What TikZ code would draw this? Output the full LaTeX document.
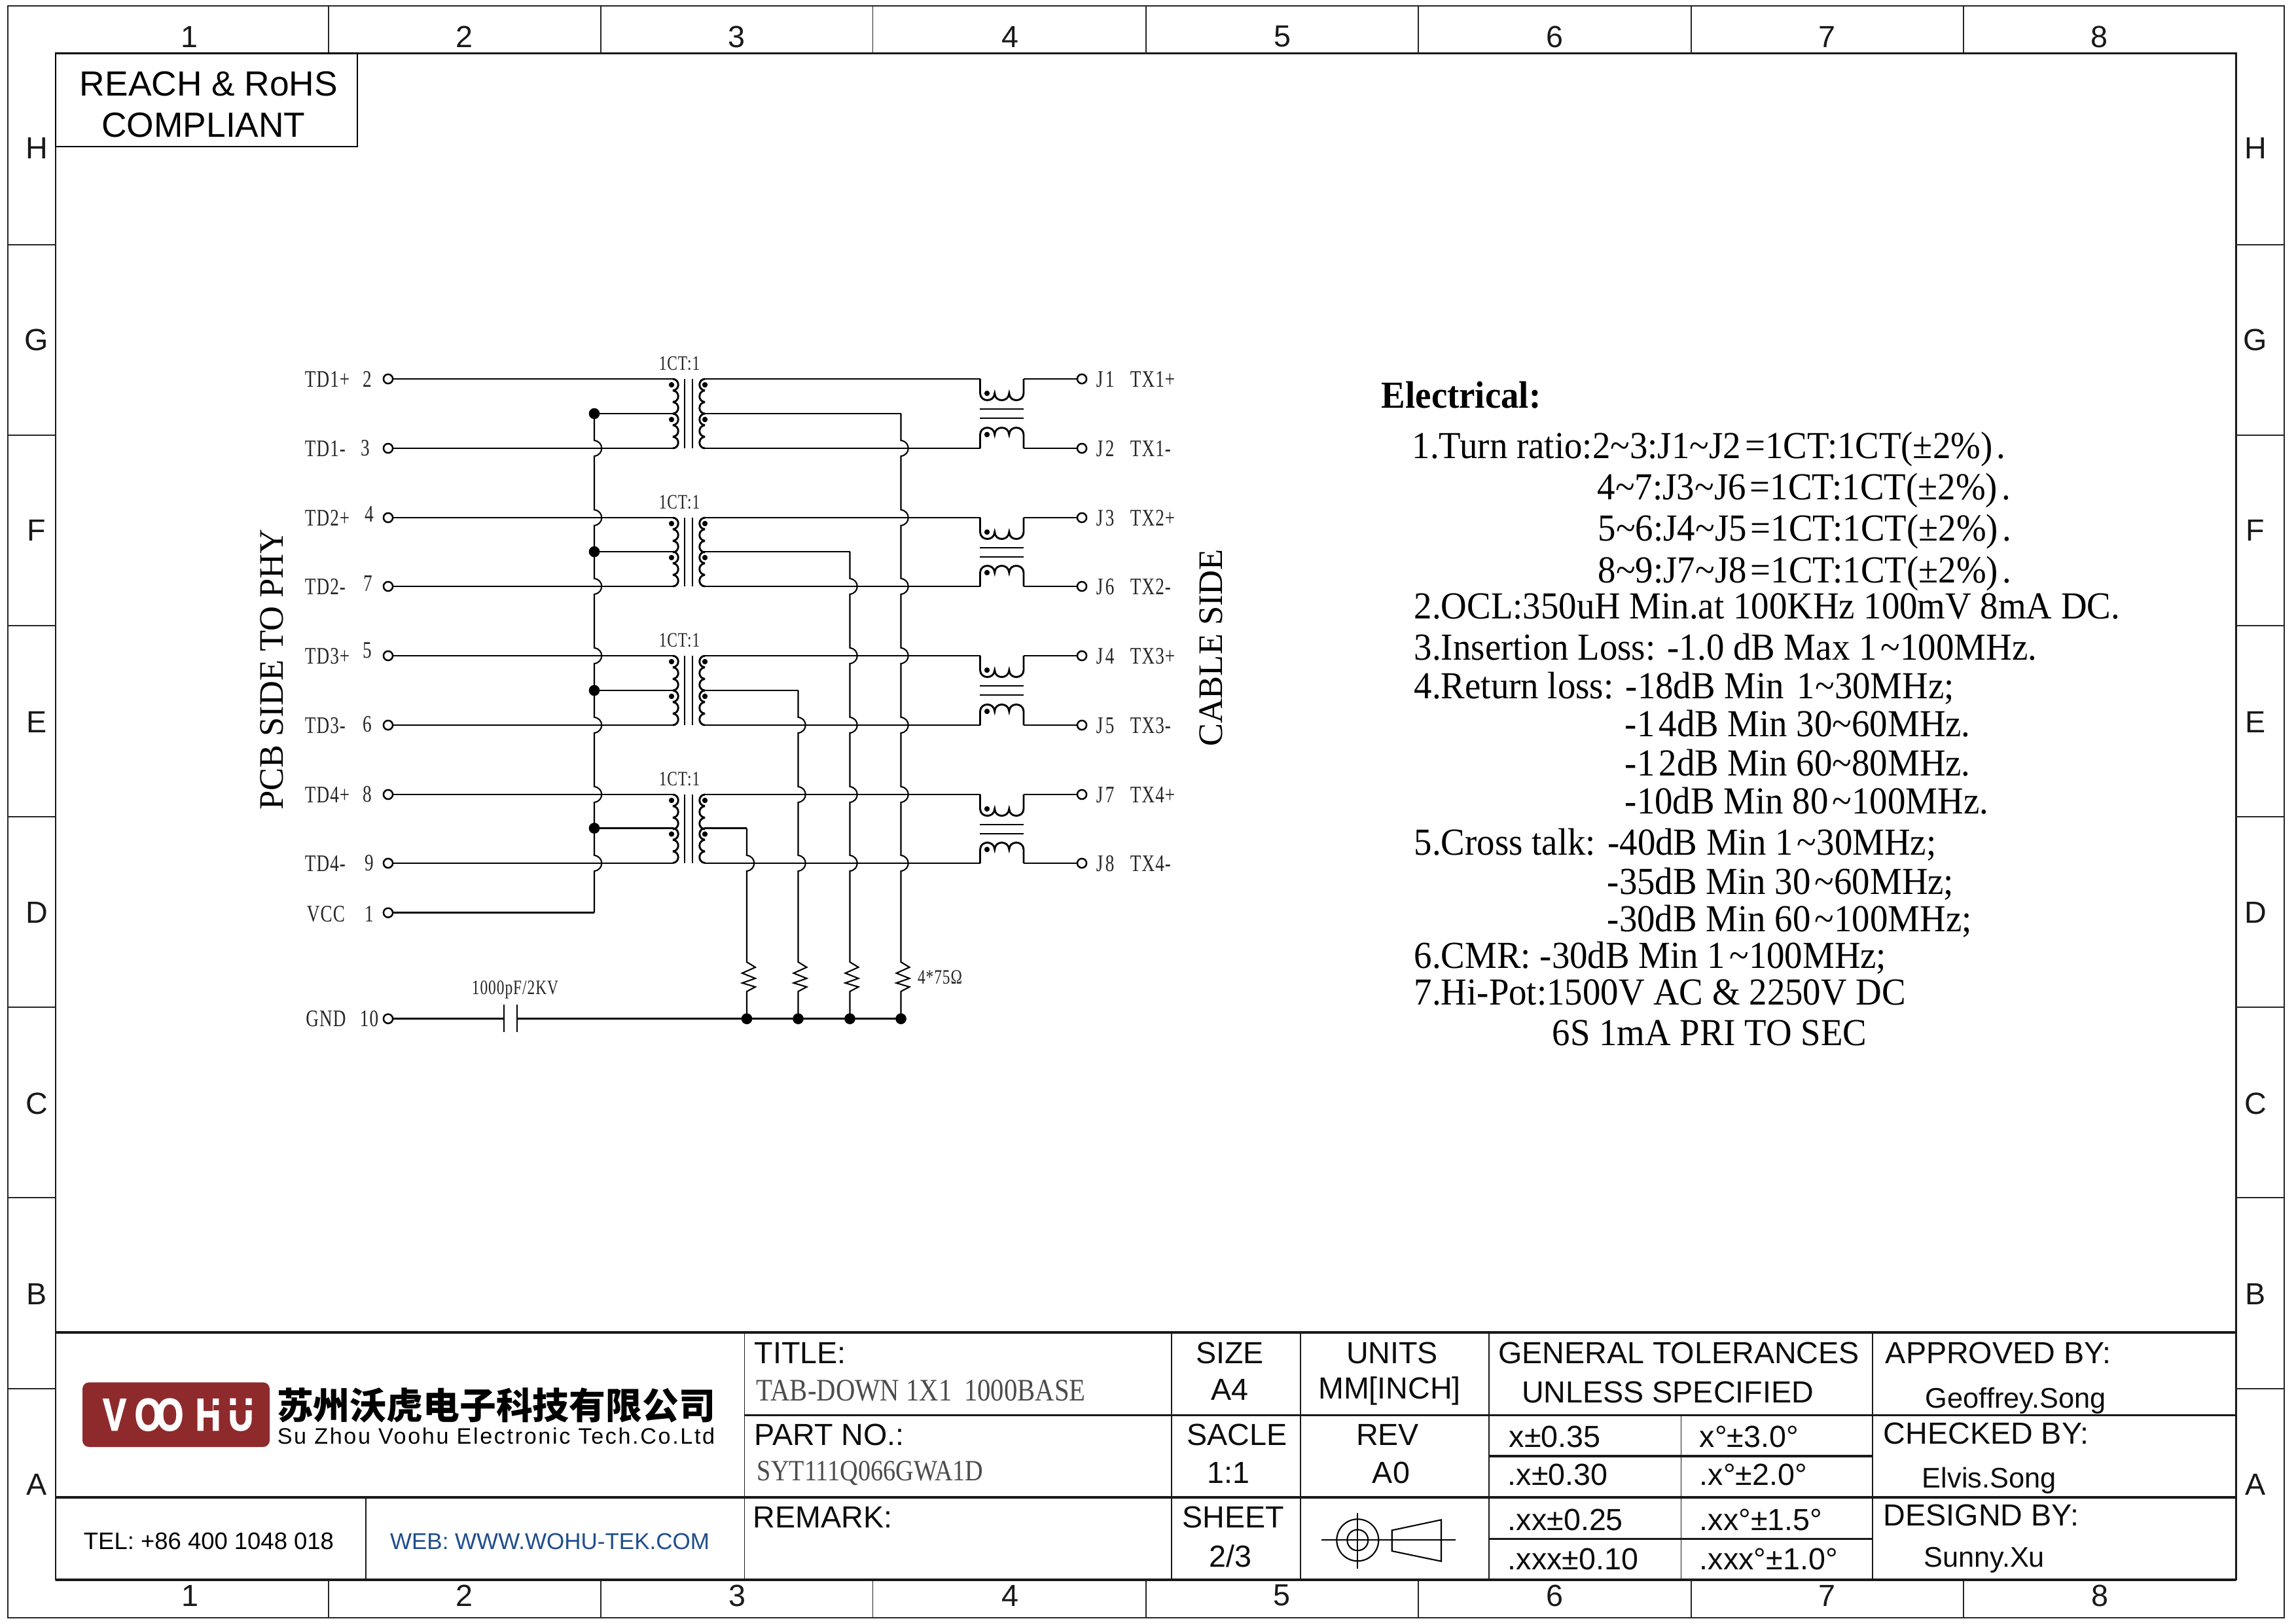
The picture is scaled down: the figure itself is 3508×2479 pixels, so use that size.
\documentclass[tikz,border=0pt]{standalone}
\usepackage{fontspec}
\setmainfont{Liberation Serif}
\newfontfamily\cadn[FakeStretch=0.75,LetterSpace=3]{Liberation Serif}
\newfontfamily\cadt[FakeStretch=0.85]{Liberation Serif}
\newfontfamily\specf[FakeStretch=0.94]{Liberation Serif}
\newfontfamily\arl{Liberation Sans}
\newfontfamily\arlc[FakeStretch=0.76,FakeBold=2.2]{Liberation Sans}
\newfontfamily\cjk{Noto Sans CJK SC}
\definecolor{logored}{HTML}{8F2A2C}
\definecolor{webblue}{HTML}{1F4E8C}
\newcommand\tl{\textasciitilde}
\newcommand\gap{\kern1.5pt}
\newcommand\humpR[2]{(#1,#2) .. controls (#1+11,#2+1) and (#1+11,#2+16.7) .. (#1,#2+17.7)}
\newcommand\humpL[2]{(#1,#2) .. controls (#1-11,#2+1) and (#1-11,#2+16.7) .. (#1,#2+17.7)}
\newcommand\vjump[2]{-- (#1,#2-12) .. controls (#1+15,#2-10) and (#1+15,#2+10) .. (#1,#2+12)}
\tikzset{
  x=0.24pt,y=-0.24pt,
  frame/.style={line width=0.45pt,black!85},
  heavy/.style={line width=0.85pt,black!90},
  grid/.style={line width=0.45pt,black!90},
  wire/.style={line width=0.7pt,black},
  busw/.style={line width=0.5pt,black},
  term/.style={circle,draw,line width=0.6pt,fill=white,minimum size=3.4pt,inner sep=0pt},
  jdot/.style={circle,fill=black,minimum size=4pt,inner sep=0pt},
  cdot/.style={circle,fill=black,minimum size=2pt,inner sep=0pt},
  lab/.style={inner sep=0pt,anchor=base west,text=black!85,font=\cadn\fontsize{8.7}{10}\selectfont},
  labc/.style={inner sep=0pt,anchor=base,text=black!85,font=\cadn\fontsize{8.7}{10}\selectfont},
  smalllab/.style={inner sep=0pt,anchor=base,text=black!85,font=\cadn\fontsize{7.5}{9}\selectfont},
  sidelab/.style={inner sep=0pt,rotate=90,font=\fontsize{12.6}{14}\selectfont},
  spec/.style={inner sep=0pt,anchor=base west,font=\specf\fontsize{14}{16}\selectfont},
  zone/.style={inner sep=0pt,font=\arl\fontsize{11.2}{13}\selectfont,text=black!90},
  tb/.style={inner sep=0pt,font=\arl\fontsize{11.2}{13}\selectfont,text=black!95},
  tbl/.style={tb,anchor=west},
  sign/.style={inner sep=0pt,anchor=west,font=\arl\fontsize{10.4}{12}\selectfont,text=black!95},
  val/.style={inner sep=0pt,anchor=west,text=black!70,font=\cadt\fontsize{11.5}{13}\selectfont},
  logoch/.style={inner sep=0pt,text=white,font=\arlc\bfseries\fontsize{16.7}{18}\selectfont},
}
\begin{document}
\begin{tikzpicture}
\path[use as bounding box,fill=white] (0,0) rectangle (3508,2479);
% ---------- frame
\draw[frame] (12,9) rectangle (3490,2472);
\draw[line width=0.65pt,black!90] (85,81.7) rectangle (3416.3,2414);
\foreach \x in {501.6,918,1333.5,1751,2167,2584,3000}{
  \draw[frame] (\x,9) -- (\x,81.7);
  \draw[frame] (\x,2414) -- (\x,2472);
}
\foreach \y in {374,665,956,1248,1539,1830,2122}{
  \draw[frame] (12,\y) -- (85,\y);
  \draw[frame] (3416.3,\y) -- (3490,\y);
}
\foreach \n/\x/\xb in {1/289/290,2/709/709,3/1125/1126,4/1543/1543,5/1959/1958,6/2375/2375,7/2791/2791,8/3207/3208}{
  \node[zone] (ztop\n) at (\x,56) {\n};
  \node[zone] (zbot\n) at (\xb,2438) {\n};
}
\foreach \n/\y in {H/226,G/519,F/810,E/1103,D/1394,C/1686,B/1977,A/2268}{
  \node[zone] (zl\n) at (56,\y) {\n};
  \node[zone] (zr\n) at (3446,\y) {\n};
}
% ---------- compliance box
\draw[line width=0.6pt] (85,81.7) rectangle (546,224);
\node[inner sep=0pt,font=\arl\fontsize{12.8}{15}\selectfont] (rohsa) at (319,128) {REACH \& RoHS};
\node[inner sep=0pt,font=\arl\fontsize{12.8}{15}\selectfont] (rohsb) at (311,191) {COMPLIANT};
% ---------- schematic terminals and labels
\foreach \n/\y/\lb/\ln/\lx/\ly in {
  2/579/TD1+/2/561/591, 3/685/TD1-/3/558/696,
  4/791/TD2+/4/564/797, 7/896/TD2-/7/562/903,
  5/1002/TD3+/5/561/1005, 6/1108/TD3-/6/561/1118,
  8/1214/TD4+/8/561/1225, 9/1319/TD4-/9/564/1330}{
  \node[term] (p\n) at (593,\y) {};
  \node[lab] (pl\n) at (465,\y+12) {\lb};
  \node[labc] (pn\n) at (\lx,\ly) {\ln};
}
\node[term] (p1) at (593,1394.7) {};
\node[labc] (pl1) at (498,1408) {VCC};
\node[labc] (pn1) at (564,1408) {1};
\node[term] (p10) at (593,1556.7) {};
\node[labc] (pl10) at (498,1568.5) {GND};
\node[labc] (pn10) at (564,1568.5) {10};
\foreach \n/\y/\lb/\ln in {
  J1/579/TX1+/1, J2/685/TX1-/2, J3/791/TX2+/3, J6/896/TX2-/6,
  J4/1002/TX3+/4, J5/1108/TX3-/5, J7/1214/TX4+/7, J8/1319/TX4-/8}{
  \node[term] (t\n) at (1653,\y) {};
  \node[lab] (tn\n) at (1674,\y+12) {J\kern0.8pt\ln};
  \node[lab] (tl\n) at (1726,\y+12) {\lb};
}
% ---------- transformer stages
\foreach \k/\a/\m/\b/\ta/\tb/\pa/\pb in {
  1/579/632/685/J1/J2/2/3,
  2/791/843/896/J3/J6/4/7,
  3/1002/1055/1108/J4/J5/5/6,
  4/1214/1265.5/1319/J7/J8/8/9}{
  \node[smalllab] (ct\k) at (1038,\a-14) {1CT:1};
  % left winding
  \draw[wire] \humpR{1028}{\a} \humpR{1028}{\a+17.7} \humpR{1028}{\a+35.4}
              \humpR{1028}{\m} \humpR{1028}{\m+17.7} \humpR{1028}{\m+35.4};
  % right winding
  \draw[wire] \humpL{1077}{\a} \humpL{1077}{\a+17.7} \humpL{1077}{\a+35.4}
              \humpL{1077}{\m} \humpL{1077}{\m+17.7} \humpL{1077}{\m+35.4};
  % core
  \draw[busw] (1046,\a) -- (1046,\b);
  \draw[busw] (1058,\a) -- (1058,\b);
  \node[cdot] (dla\k) at (1026,\a+9) {};
  \node[cdot] (dlb\k) at (1026,\m+9) {};
  \node[cdot] (dra\k) at (1077,\a+9) {};
  \node[cdot] (drb\k) at (1077,\m+9) {};
  % common mode choke
  \coordinate (cla\k) at (1497.5,\a);
  \coordinate (cra\k) at (1564,\a);
  \coordinate (clb\k) at (1497.5,\b);
  \coordinate (crb\k) at (1564,\b);
  \draw[wire] (cla\k) -- (1497.5,\a+22)
     .. controls (1498,\a+36) and (1519,\a+36) .. (1519.7,\a+22)
     .. controls (1520,\a+36) and (1541,\a+36) .. (1541.8,\a+22)
     .. controls (1542,\a+36) and (1563.5,\a+36) .. (1564,\a+22) -- (cra\k);
  \draw[wire] (clb\k) -- (1497.5,\b-21)
     .. controls (1498,\b-35) and (1519,\b-35) .. (1519.7,\b-21)
     .. controls (1520,\b-35) and (1541,\b-35) .. (1541.8,\b-21)
     .. controls (1542,\b-35) and (1563.5,\b-35) .. (1564,\b-21) -- (crb\k);
  \draw[wire] (1497,\a+46) -- (1564,\a+46);
  \draw[wire] (1497,\a+60) -- (1564,\a+60);
  \node[cdot] (cda\k) at (1508,\a+22) {};
  \node[cdot] (cdb\k) at (1508,\b-21) {};
  % signal wires
  \draw[wire] (p\pa) -- (1028,\a);
  \draw[wire] (p\pb) -- (1028,\b);
  \draw[wire] (1077,\a) -- (cla\k);
  \draw[wire] (1077,\b) -- (clb\k);
  \draw[wire] (cra\k) -- (t\ta);
  \draw[wire] (crb\k) -- (t\tb);
  % centre tap to PHY-side bus
  \node[jdot] (vd\k) at (908,\m) {};
  \draw[wire] (vd\k.center) -- (1028,\m);
}
% ---------- centre-tap buses, hopping the signal wires
\draw[busw] (vd1.center) \vjump{908}{685} \vjump{908}{791} \vjump{908}{896}
   \vjump{908}{1002} \vjump{908}{1108} \vjump{908}{1214} \vjump{908}{1319}
   -- (908,1394.7) coordinate (vccc);
\draw[wire] (p1) -- (vccc);
\foreach \k/\m/\x/\hops in {
  1/632/1376.5/{685,791,896,1002,1108,1214,1319},
  2/843/1298.5/{896,1002,1108,1214,1319},
  3/1055/1219.5/{1108,1214,1319},
  4/1265.5/1141/{1319}}{
  \node[jdot] (gd\k) at (\x,1556.7) {};
  \draw[wire] (1077,\m) -- (\x,\m);
  \draw[busw] (\x,\m) \foreach \h in \hops {\vjump{\x}{\h}} -- (\x,1470)
     -- (\x+13,1478) -- (\x-7,1487) -- (\x+13,1495) -- (\x-7,1502) -- (\x+13,1508)
     -- (\x,1515) -- (gd\k.center);
}
% ---------- capacitor and ground rail
\coordinate (capa) at (770,1556.7);
\coordinate (capb) at (790,1556.7);
\draw[wire] (p10) -- (capa);
\draw[wire] (capb) -- (gd1.center);
\draw[busw] (770,1535) -- (770,1577);
\draw[busw] (790,1535) -- (790,1577);
\node[smalllab] (capl) at (787,1519) {1000pF/2KV};
\node[smalllab] (resl) at (1436,1503) {4*75Ω};
% ---------- side captions
\node[sidelab] (pcb) at (415,1023) {PCB SIDE TO PHY};
\node[sidelab] (cab) at (1850,990) {CABLE SIDE};
% ---------- electrical notes
\node[spec,font=\specf\bfseries\fontsize{14}{16}\selectfont] (e0) at (2110,623.5) {Electrical:};
\node[spec] (e1) at (2157,700) {1.Turn ratio:2\tl3:J1\tl J2\gap=1CT:1CT(±2\%)\gap.};
\node[spec] (e2) at (2440,763) {4\tl7:J3\tl J6\gap=1CT:1CT(±2\%)\gap.};
\node[spec] (e3) at (2441,826.5) {5\tl6:J4\tl J5\gap=1CT:1CT(±2\%)\gap.};
\node[spec] (e4) at (2441,890) {8\tl9:J7\tl J8\gap=1CT:1CT(±2\%)\gap.};
\node[spec] (e5) at (2160,945.7) {2.OCL:350uH Min.at 100KHz 100mV 8mA DC.};
\node[spec] (e6) at (2160,1008) {3.Insertion Loss: -1.0 dB Max 1\gap\tl100MHz.};
\node[spec] (e7) at (2160,1067) {4.Return loss: -18dB Min\gap\ 1\tl30MHz;};
\node[spec] (e8) at (2482,1125.5) {-1\gap 4dB Min 30\tl60MHz.};
\node[spec] (e9) at (2482,1185) {-1\gap 2dB Min 60\tl80MHz.};
\node[spec] (e10) at (2482,1243) {-10dB Min 80\gap\tl100MHz.};
\node[spec] (e11) at (2160,1306.5) {5.Cross talk: -40dB Min 1\gap\tl30MHz;};
\node[spec] (e12) at (2455,1366.5) {-35dB Min 30\gap\tl60MHz;};
\node[spec] (e13) at (2455,1423.5) {-30dB Min 60\gap\tl100MHz;};
\node[spec] (e14) at (2160,1479.4) {6.CMR: -30dB Min 1\gap\tl100MHz;};
\node[spec] (e15) at (2160,1535) {7.Hi-Pot:1500V  AC \& 2250V DC};
\node[spec] (e16) at (2371,1597) {6S 1mA PRI TO SEC};
% ---------- title block lines
\draw[heavy] (85,2036) -- (3416.3,2036);
\draw[heavy] (1137.5,2162.5) -- (3416.3,2162.5);
\draw[heavy] (85,2288) -- (3416.3,2288);
\draw[heavy] (85,2414) -- (3416.3,2414);
\draw[heavy] (2274.7,2225) -- (2861,2225);
\draw[heavy] (2274.7,2351.5) -- (2861,2351.5);
\foreach \x in {1137.5,1790.4,1986.6,2274.7,2861}{\draw[grid] (\x,2036) -- (\x,2414);}
\draw[grid] (2568.5,2162.5) -- (2568.5,2414);
\draw[grid] (559,2288) -- (559,2414);
% ---------- logo
\fill[logored,rounded corners=2.4pt] (126,2112.3) rectangle (412,2211);
\node[logoch] (lv) at (175,2161.7) {V};
\node[logoch] (lo1) at (226.5,2161.7) {O};
\node[logoch] (lo2) at (259.5,2161.7) {O};
\node[logoch] (lh) at (318,2161.7) {H};
\node[logoch] (lu) at (368,2161.7) {U};
\fill[logored] (326,2147) rectangle (342,2154.5);
\fill[logored] (345,2147) rectangle (391,2154.5);
\node[inner sep=0pt,font=\cjk\bfseries\fontsize{13.4}{15}\selectfont] (coa) at (758,2147) {苏州沃虎电子科技有限公司};
\node[inner sep=0pt,font=\arl\fontsize{8.2}{10}\selectfont] (cob) at (758,2194) {\addfontfeature{LetterSpace=7.7}Su Zhou Voohu Electronic Tech.Co.Ltd};
\node[inner sep=0pt,font=\arl\fontsize{8.75}{11}\selectfont] (tel) at (319,2355) {TEL: +86 400 1048 018};
\node[inner sep=0pt,text=webblue,font=\arl\fontsize{8.4}{11}\selectfont] (web) at (840,2355) {WEB: WWW.WOHU-TEK.COM};
% ---------- title block texts
\node[tbl] (tt1) at (1152,2067) {TITLE:};
\node[val] (tt2) at (1155,2125) {TAB-DOWN 1X1\kern2pt\ 1000BASE};
\node[tbl] (tt3) at (1152,2192) {PART NO.:};
\node[val,font=\cadt\fontsize{10.8}{13}\selectfont] (tt4) at (1156,2251) {SYT111Q066GWA1D};
\node[tbl] (tt5) at (1150,2318) {REMARK:};
\node[tb] (s1) at (1879,2067) {SIZE};
\node[tb] (s2) at (1879,2123) {A4};
\node[tb] (u1) at (2127,2067) {UNITS};
\node[tb] (u2) at (2123,2125) {MM[INCH]};
\node[tb] (g1) at (2565,2067) {GENERAL TOLERANCES};
\node[tb] (g2) at (2548,2127) {UNLESS SPECIFIED};
\node[tbl] (ap1) at (2880,2067) {APPROVED BY:};
\node[sign] (ap2) at (2941,2140) {Geoffrey.Song};
\node[tb] (s3) at (1890,2192) {SACLE};
\node[tb] (s4) at (1877,2250) {1:1};
\node[tb] (r1) at (2120,2192) {REV};
\node[tb] (r2) at (2125.5,2250) {A0};
\node[tbl] (x1) at (2305,2195) {x±0.35};
\node[tbl] (x2) at (2596,2195) {x°±3.0°};
\node[tbl] (x3) at (2303,2253) {.x±0.30};
\node[tbl] (x4) at (2596,2253) {.x°±2.0°};
\node[tbl] (ch1) at (2877,2190) {CHECKED BY:};
\node[sign] (ch2) at (2936,2262) {Elvis.Song};
\node[tb] (sh1) at (1884.5,2318) {SHEET};
\node[tb] (sh2) at (1880,2378) {2/3};
\node[tbl] (x5) at (2303,2322) {.xx±0.25};
\node[tbl] (x6) at (2596,2322) {.xx°±1.5°};
\node[tbl] (x7) at (2303,2382) {.xxx±0.10};
\node[tbl] (x8) at (2596,2382) {.xxx°±1.0°};
\node[tbl] (de1) at (2877,2315) {DESIGND BY:};
\node[sign] (de2) at (2938.5,2384) {Sunny.Xu};
% ---------- projection symbol
\draw[line width=0.5pt] (2074.3,2353.3) circle[radius=32];
\draw[line width=0.5pt] (2074.3,2353.3) circle[radius=16];
\draw[line width=0.5pt] (2074.3,2311.7) -- (2074.3,2396.7);
\draw[line width=0.5pt] (2019,2353.3) -- (2224,2353.3);
\draw[line width=0.5pt] (2126.7,2338.3) -- (2202,2322.3) -- (2202,2385.7) -- (2126.7,2370) -- cycle;
\end{tikzpicture}
\end{document}
